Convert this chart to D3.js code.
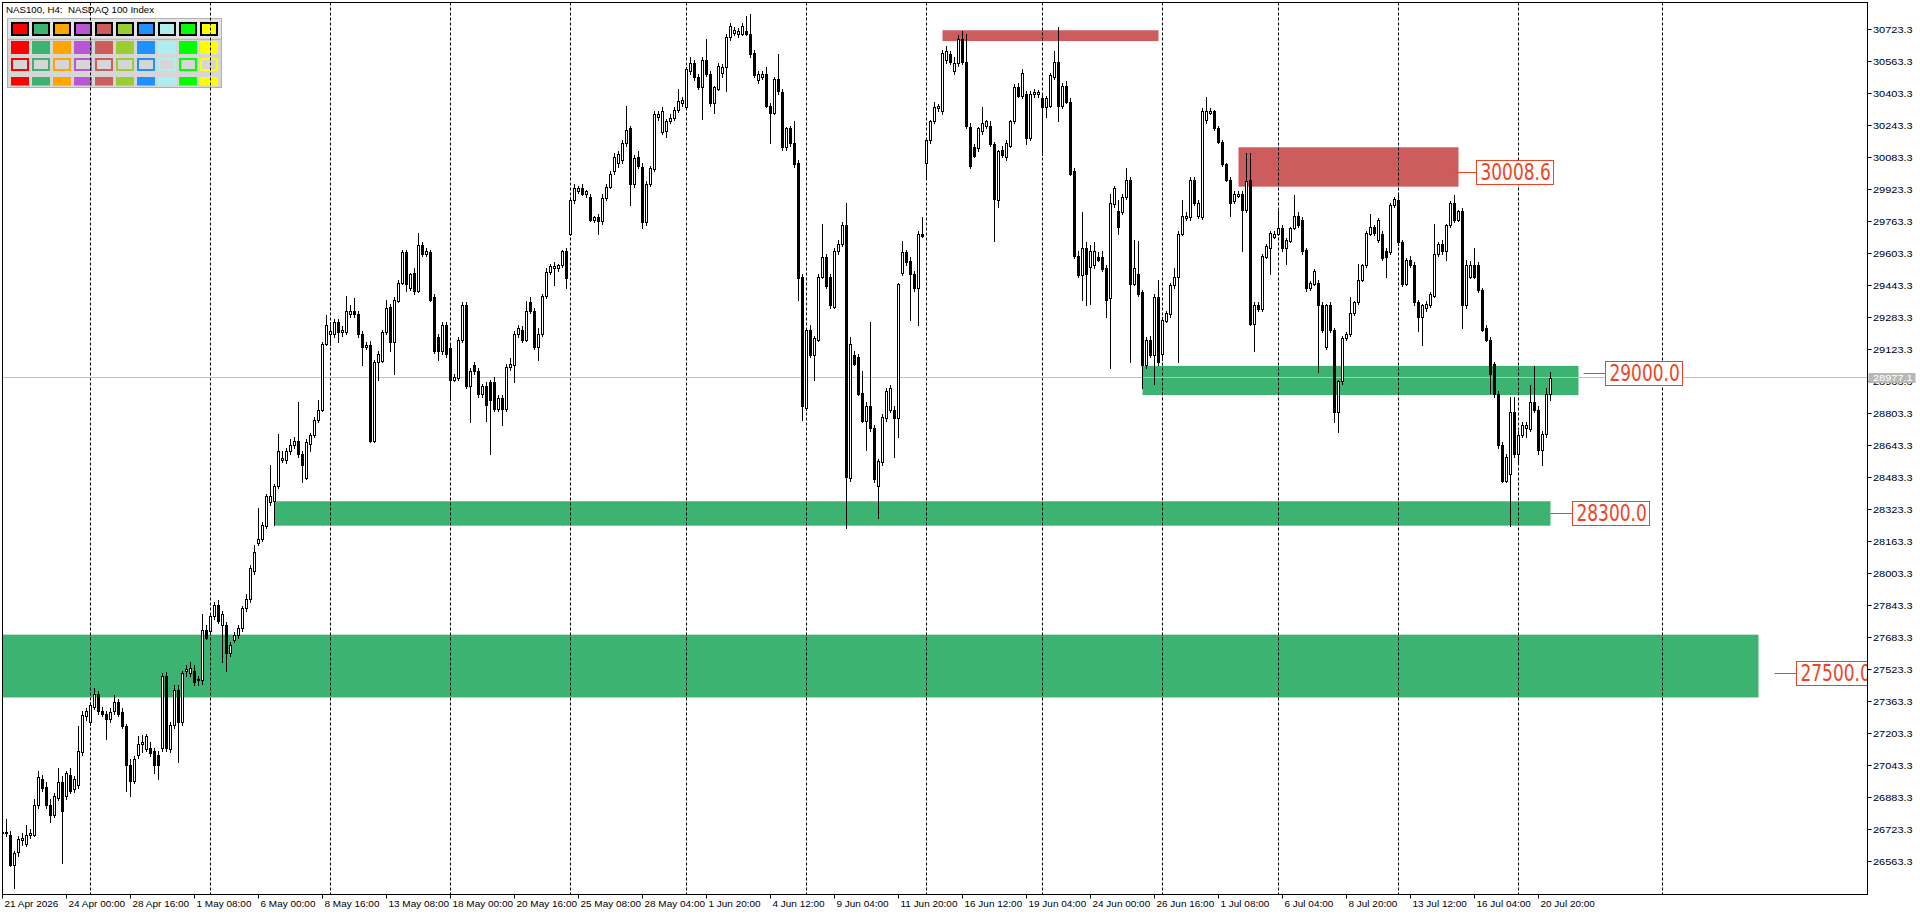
<!DOCTYPE html>
<html>
<head>
<meta charset="utf-8">
<title>NAS100, H4</title>
<script src="https://d3js.org/d3.v7.min.js"></script>
<style>
  html, body { margin: 0; padding: 0; background: #fff; overflow: hidden; }
  svg { display: block; }
  text { font-family: "Liberation Sans", Arial, sans-serif; }
  text.level-text { font-family: "DejaVu Sans", Verdana, sans-serif; }
</style>
</head>
<body>
<div id="chart"></div>
<script>

// H4 candles (bar 0 = 21 Apr 2026 08:00)
var opens = [
  26699, 26704, 26693, 26542, 26607, 26665, 26647, 26693, 26693, 26841,
  26970, 26933, 26841, 26790, 26876, 26956, 26885, 26990, 26922, 26942,
  27105, 27284, 27255, 27333, 27398, 27313, 27298, 27270, 27313, 27355,
  27304, 27236, 27042, 26962, 27090, 27147, 27122, 27127, 27113, 27090,
  27127, 27484, 27122, 27241, 27418, 27255, 27513, 27499, 27513, 27464,
  27464, 27718, 27713, 27784, 27841, 27741, 27741, 27599, 27664, 27690,
  27727, 27826, 27869, 28012, 28150, 28170, 28235, 28355, 28361, 28435,
  28566, 28566, 28612, 28640, 28663, 28597, 28475, 28645, 28691, 28768,
  28817, 29145, 29197, 29197, 29254, 29205, 29205, 29296, 29311, 29296,
  29197, 29131, 29140, 28663, 29054, 29063, 29205, 29331, 29154, 29362,
  29453, 29605, 29425, 29502, 29411, 29640, 29597, 29605, 29382, 29183,
  29111, 29240, 29126, 28968, 28977, 29168, 29339, 28934, 29040, 29011,
  28897, 28934, 28954, 28954, 28820, 28877, 28820, 29031, 29040, 29197,
  29217, 29168, 29354, 29311, 29131, 29197, 29388, 29505, 29525, 29525,
  29539, 29611, 29697, 29868, 29910, 29924, 29896, 29882, 29768, 29782,
  29759, 29876, 29930, 30010, 30053, 30067, 30152, 30224, 29947, 30081,
  30033, 29754, 29947, 30019, 30281, 30204, 30210, 30261, 30275, 30315,
  30352, 30332, 30510, 30552, 30481, 30429, 30567, 30495, 30352, 30423,
  30501, 30530, 30681, 30703, 30695, 30695, 30709, 30695, 30601, 30467,
  30481, 30495, 30338, 30301, 30472, 30404, 30129, 30224, 30152, 30053,
  29482, 28825, 29217, 29091, 29168, 29482, 29582, 29482, 29333, 29611,
  29645, 29739, 28475, 29091, 29083, 28903, 28760, 28834, 28725, 28435,
  28554, 28777, 28817, 28817, 28777, 29502, 29605, 29559, 29497, 29425,
  29697, 30053, 30167, 30261, 30324, 30310, 30567, 30595, 30510, 30552,
  30672, 30558, 30232, 30129, 30124, 30210, 30238, 30238, 30147, 29868,
  30118, 30081, 30138, 30261, 30432, 30387, 30395, 30175, 30395, 30395,
  30375, 30329, 30338, 30481, 30558, 30338, 30438, 30358, 30010, 29588,
  29491, 29625, 29531, 29539, 29582, 29582, 29525, 29376, 29847, 29811,
  29805, 29882, 29967, 29448, 29497, 29405, 29040, 29168, 29091, 29382,
  29097, 29262, 29296, 29439, 29482, 29697, 29776, 29782, 29967, 29788,
  29782, 30267, 30301, 30310, 30224, 30158, 30044, 29967, 29862, 29888,
  29896, 29816, 29967, 29245, 29339, 29319, 29582, 29625, 29682, 29697,
  29725, 29625, 29662, 29725, 29788, 29768, 29617, 29425, 29448, 29453,
  29339, 29131, 29339, 29217, 28805, 28959, 29177, 29197, 29302, 29354,
  29468, 29539, 29697, 29731, 29668, 29697, 29611, 29605, 29839, 29868,
  29654, 29445, 29568, 29539, 29354, 29282, 29325, 29339, 29388, 29597,
  29645, 29611, 29739, 29853, 29768, 29811, 29339, 29482, 29539, 29539,
  29416, 29226, 29168, 29046, 28897, 28640, 28463, 28497, 28805, 28597,
  28691, 28725, 28720, 28854, 28817, 28617, 28697, 28897
];
var highs = [
  26727, 26770, 26713, 26613, 26684, 26699, 26742, 26722, 26870, 27013,
  26990, 26956, 26870, 26899, 27028, 26985, 27013, 27028, 26985, 27236,
  27313, 27327, 27355, 27427, 27412, 27333, 27313, 27327, 27390, 27370,
  27327, 27247, 27070, 27085, 27184, 27190, 27198, 27156, 27127, 27113,
  27499, 27504, 27255, 27441, 27441, 27513, 27541, 27556, 27541, 27484,
  27798, 27741, 27798, 27855, 27864, 27812, 27755, 27656, 27704, 27741,
  27835, 27898, 28041, 28141, 28327, 28255, 28398, 28540, 28446, 28697,
  28612, 28626, 28669, 28683, 28854, 28612, 28669, 28702, 28782, 28868,
  29154, 29291, 29254, 29273, 29273, 29234, 29388, 29339, 29376, 29311,
  29211, 29154, 29160, 29068, 29111, 29217, 29368, 29348, 29382, 29468,
  29617, 29617, 29502, 29525, 29702, 29654, 29625, 29617, 29396, 29197,
  29254, 29254, 29140, 28997, 29183, 29354, 29354, 29025, 29054, 29025,
  28948, 28954, 28968, 28983, 28891, 28891, 29046, 29074, 29211, 29240,
  29234, 29362, 29382, 29325, 29226, 29396, 29525, 29548, 29554, 29548,
  29617, 29625, 29882, 29947, 29938, 29947, 29918, 29896, 29788, 29797,
  29896, 29947, 30010, 30101, 30110, 30167, 30338, 30238, 30090, 30110,
  30053, 29959, 30038, 30310, 30310, 30329, 30272, 30295, 30329, 30423,
  30381, 30530, 30581, 30567, 30495, 30581, 30672, 30510, 30438, 30552,
  30547, 30695, 30752, 30729, 30724, 30752, 30786, 30795, 30615, 30510,
  30510, 30530, 30352, 30481, 30595, 30423, 30232, 30238, 30261, 30067,
  29497, 29226, 29240, 29188, 29497, 29748, 29597, 29497, 29625, 29668,
  29754, 29853, 29183, 29111, 29097, 29011, 28854, 29254, 28740, 28569,
  28797, 28925, 28940, 28834, 29453, 29659, 29617, 29582, 29511, 29711,
  29782, 30175, 30267, 30358, 30347, 30615, 30638, 30609, 30581, 30689,
  30709, 30695, 30252, 30147, 30232, 30329, 30267, 30261, 30158, 30118,
  30138, 30167, 30267, 30444, 30452, 30519, 30409, 30409, 30423, 30415,
  30395, 30387, 30501, 30609, 30729, 30452, 30461, 30375, 30024, 29611,
  29805, 29654, 29640, 29654, 29605, 29611, 29539, 29896, 29938, 29868,
  29896, 30024, 29981, 29668, 29662, 29416, 29183, 29188, 29396, 29468,
  29282, 29311, 29453, 29525, 29711, 29868, 29805, 29981, 29981, 29868,
  30324, 30381, 30324, 30318, 30238, 30167, 30053, 29981, 29910, 29910,
  29910, 30101, 30101, 29354, 29354, 29597, 29645, 29711, 29711, 29811,
  29739, 29674, 29731, 29890, 29805, 29782, 29625, 29462, 29519, 29468,
  29354, 29348, 29354, 29226, 28968, 29188, 29205, 29382, 29359, 29548,
  29548, 29711, 29797, 29739, 29776, 29711, 29625, 29853, 29882, 29896,
  29668, 29576, 29588, 29554, 29368, 29348, 29359, 29405, 29748, 29654,
  29668, 29748, 29862, 29890, 29816, 29825, 29568, 29559, 29625, 29554,
  29425, 29240, 29183, 29054, 28911, 28654, 28597, 28883, 28883, 28711,
  28754, 28754, 28940, 29034, 28834, 28711, 28925, 29005
];
var lows = [
  26670, 26684, 26534, 26428, 26585, 26642, 26636, 26676, 26684, 26827,
  26913, 26827, 26756, 26779, 26864, 26551, 26870, 26899, 26905, 26928,
  27093, 27264, 27241, 27321, 27298, 27284, 27170, 27255, 27298, 27284,
  27227, 26913, 26885, 26951, 27076, 27105, 27113, 27085, 26999, 26970,
  27113, 27113, 27105, 27227, 27056, 27241, 27484, 27484, 27441, 27441,
  27447, 27670, 27698, 27769, 27749, 27556, 27513, 27584, 27656, 27676,
  27713, 27812, 27855, 27998, 28141, 28161, 28227, 28341, 28241, 28426,
  28554, 28549, 28597, 28626, 28583, 28455, 28469, 28612, 28683, 28754,
  28811, 29140, 29140, 29183, 29154, 29188, 29197, 29282, 29282, 29183,
  29040, 29120, 28654, 28654, 28968, 29054, 29197, 29111, 28997, 29354,
  29445, 29411, 29416, 29396, 29405, 29588, 29588, 29359, 29103, 29068,
  29097, 29083, 28868, 28959, 28968, 29154, 28925, 28754, 28997, 28883,
  28883, 28760, 28597, 28811, 28811, 28740, 28811, 29017, 28954, 29183,
  29154, 29160, 29302, 29120, 29068, 29188, 29376, 29496, 29439, 29511,
  29531, 29425, 29691, 29853, 29902, 29890, 29882, 29759, 29754, 29697,
  29748, 29868, 29924, 29996, 30033, 30053, 30138, 29839, 29930, 30024,
  29725, 29739, 29938, 30010, 30267, 30195, 30181, 30252, 30267, 30307,
  30338, 30324, 30495, 30467, 30423, 30272, 30487, 30338, 30301, 30415,
  30481, 30409, 30666, 30689, 30681, 30689, 30689, 30581, 30481, 30452,
  30472, 30329, 30152, 30295, 30395, 30118, 30118, 30138, 30033, 29368,
  28768, 28817, 29083, 28968, 29160, 29474, 29425, 29325, 29325, 29597,
  29634, 28227, 28463, 29040, 28891, 28754, 28617, 28711, 28455, 28275,
  28540, 28760, 28805, 28583, 28683, 29491, 29539, 29268, 29411, 29240,
  29682, 29976, 30152, 30252, 30310, 30295, 30552, 30547, 30495, 30538,
  30547, 30224, 30024, 30081, 30110, 30195, 30224, 30135, 29662, 29833,
  30081, 30067, 30129, 30252, 30381, 30375, 30147, 30167, 30381, 30381,
  30090, 30281, 30329, 30472, 30261, 30324, 30352, 29990, 29576, 29482,
  29368, 29339, 29348, 29525, 29559, 29511, 29282, 29025, 29833, 29697,
  29797, 29873, 29054, 29439, 29388, 28925, 29025, 29083, 28948, 29040,
  29068, 29254, 29282, 29425, 29054, 29691, 29768, 29768, 29839, 29776,
  29773, 30252, 30295, 30215, 30152, 30038, 29959, 29788, 29853, 29882,
  29611, 29805, 29240, 29111, 29311, 29311, 29576, 29497, 29674, 29691,
  29611, 29548, 29654, 29719, 29731, 29597, 29411, 29416, 29439, 29005,
  29205, 29120, 29205, 28754, 28705, 28948, 29168, 29188, 29291, 29348,
  29462, 29531, 29691, 29691, 29654, 29568, 29482, 29597, 29833, 29640,
  29434, 29439, 29531, 29339, 29211, 29140, 29311, 29331, 29382, 29588,
  29597, 29568, 29731, 29754, 29759, 29226, 29325, 29474, 29474, 29405,
  29211, 29160, 28903, 28883, 28626, 28455, 28455, 28235, 28583, 28549,
  28683, 28683, 28711, 28805, 28597, 28540, 28683, 28868
];
var closes = [
  26704, 26699, 26542, 26599, 26670, 26676, 26693, 26699, 26841, 26979,
  26928, 26841, 26790, 26885, 26956, 26813, 26999, 26913, 26970, 27113,
  27293, 27313, 27341, 27398, 27313, 27298, 27270, 27304, 27355, 27298,
  27236, 27042, 26962, 27070, 27147, 27156, 27184, 27099, 27042, 27042,
  27484, 27127, 27241, 27418, 27255, 27499, 27522, 27527, 27456, 27470,
  27718, 27676, 27784, 27841, 27761, 27798, 27599, 27641, 27693, 27727,
  27826, 27869, 28027, 28104, 28170, 28241, 28384, 28384, 28435, 28612,
  28574, 28612, 28640, 28663, 28597, 28540, 28654, 28691, 28768, 28817,
  29145, 29240, 29211, 29254, 29205, 29217, 29311, 29311, 29296, 29197,
  29131, 29140, 28660, 29054, 29097, 29205, 29325, 29154, 29368, 29453,
  29605, 29448, 29497, 29411, 29640, 29597, 29611, 29368, 29111, 29111,
  29240, 29097, 28968, 28983, 29168, 29339, 28934, 29011, 29011, 28897,
  28934, 28840, 28868, 28820, 28877, 28820, 29031, 29046, 29197, 29226,
  29168, 29311, 29311, 29131, 29197, 29388, 29505, 29534, 29534, 29539,
  29611, 29477, 29868, 29924, 29924, 29896, 29910, 29768, 29782, 29759,
  29876, 29930, 29996, 30081, 30095, 30152, 30215, 29947, 30076, 30038,
  29754, 29947, 30024, 30295, 30295, 30310, 30261, 30275, 30318, 30361,
  30367, 30519, 30552, 30481, 30432, 30567, 30495, 30352, 30429, 30538,
  30530, 30681, 30738, 30718, 30709, 30738, 30695, 30595, 30489, 30495,
  30495, 30338, 30301, 30472, 30409, 30129, 30224, 30152, 30044, 29477,
  28834, 29217, 29091, 29177, 29482, 29582, 29434, 29339, 29611, 29645,
  29739, 28483, 29145, 29046, 28897, 28760, 28834, 28725, 28469, 28560,
  28782, 28911, 28925, 28777, 29445, 29605, 29554, 29497, 29425, 29697,
  29688, 30167, 30261, 30329, 30338, 30601, 30609, 30558, 30552, 30672,
  30558, 30238, 30038, 30087, 30224, 30252, 30261, 30147, 29873, 30110,
  30090, 30152, 30261, 30432, 30387, 30501, 30175, 30395, 30404, 30404,
  30329, 30375, 30489, 30558, 30338, 30438, 30358, 29996, 29588, 29491,
  29625, 29497, 29611, 29611, 29568, 29519, 29368, 29853, 29924, 29731,
  29882, 29967, 29448, 29525, 29396, 29040, 29168, 29091, 29382, 29054,
  29268, 29302, 29439, 29482, 29697, 29788, 29788, 29967, 29853, 29853,
  30310, 30310, 30310, 30224, 30158, 30044, 29967, 29853, 29896, 29896,
  29816, 29959, 29245, 29339, 29319, 29588, 29634, 29702, 29697, 29725,
  29625, 29668, 29725, 29788, 29739, 29611, 29425, 29453, 29511, 29339,
  29217, 29339, 29217, 28805, 28959, 29177, 29197, 29302, 29354, 29468,
  29539, 29702, 29731, 29702, 29768, 29576, 29582, 29839, 29873, 29654,
  29445, 29568, 29539, 29354, 29282, 29339, 29348, 29396, 29597, 29645,
  29611, 29739, 29853, 29768, 29811, 29339, 29539, 29539, 29482, 29416,
  29217, 29168, 28997, 28897, 28640, 28463, 28583, 28805, 28597, 28691,
  28740, 28740, 28854, 28817, 28617, 28697, 28897, 28977.1
];

var lastPrice = 28977.1;

// time axis labels (bar index -> text)
var xLabelBars = [0, 16, 32, 48, 64, 80, 96, 112, 128, 144, 160, 176, 192,
                  208, 224, 240, 256, 272, 288, 304, 320, 336, 352, 368, 384];
var xLabelText = ["21 Apr 2026", "24 Apr 00:00", "28 Apr 16:00", "1 May 08:00",
  "6 May 00:00", "8 May 16:00", "13 May 08:00", "18 May 00:00", "20 May 16:00",
  "25 May 08:00", "28 May 04:00", "1 Jun 20:00", "4 Jun 12:00", "9 Jun 04:00",
  "11 Jun 20:00", "16 Jun 12:00", "19 Jun 04:00", "24 Jun 00:00", "26 Jun 16:00",
  "1 Jul 08:00", "6 Jul 04:00", "8 Jul 20:00", "13 Jul 12:00", "16 Jul 04:00",
  "20 Jul 20:00"];

// weekly separators (bar index, last one lies in the future)
var gridBars = [22, 52, 82, 112, 142, 171, 201, 231, 260, 290, 319, 349, 379, 415];

// price scale labels
var yTicks = [26563.3, 26723.3, 26883.3, 27043.3, 27203.3, 27363.3, 27523.3,
  27683.3, 27843.3, 28003.3, 28163.3, 28323.3, 28483.3, 28643.3, 28803.3,
  28963.3, 29123.3, 29283.3, 29443.3, 29603.3, 29763.3, 29923.3, 30083.3,
  30243.3, 30403.3, 30563.3, 30723.3];

// supply / demand rectangles
var zoneTop    = [30715, 30130, 29037, 28360, 27693];
var zoneBottom = [30661, 29933, 28891, 28238, 27379];
var zoneFrom   = [235, 309, 285, 68, -1];
var zoneTo     = [289, 364, 394, 387, 439];
var zoneKind   = ["supply", "supply", "demand", "demand", "demand"];

// price labels drawn next to the rectangles
var levelValues   = [30008.6, 29000.0, 28300.0, 27500.0];
var levelLabelBar = [368.5, 400.75, 392.5, 448.5];

// colour buttons panel
var paletteColors = ["#ff0000", "#3cb371", "#ffa500", "#ba55d3", "#cd5c5c",
                     "#9acd32", "#1e90ff", "#afeeee", "#00ff00", "#ffff00"];

var W = 1920, H = 915;
var pl = 2.5, pt = 2.5, pr = 1867.5, pb = 894.5;
var labelColor = "#ef4423";

var x = d3.scaleLinear().domain([0, 466.25]).range([2.5, 1867.5]);
var y = d3.scaleLinear().domain([26396.3, 30856.3]).range([894, 2]);
var crisp = function(v) { return Math.round(v) + 0.5; };

var svg = d3.select("#chart").append("svg")
    .attr("width", W).attr("height", H);
svg.append("rect").attr("width", W).attr("height", H).attr("fill", "#fff");

svg.append("defs").append("clipPath").attr("id", "plotClip")
  .append("rect").attr("x", pl).attr("y", pt).attr("width", pr - pl).attr("height", pb - pt);

// ---- palette panel (top left)
var panel = svg.append("g");
panel.append("rect").attr("x", 7.5).attr("y", 18.5).attr("width", 214).attr("height", 69)
  .attr("fill", "#d6d6d6").attr("stroke", "#b0b0b0");
panel.append("rect").attr("x", 8).attr("y", 19).attr("width", 213).attr("height", 19)
  .attr("fill", "#e4e4e4");
panel.append("line").attr("x1", 8).attr("x2", 221).attr("y1", 39.5).attr("y2", 39.5)
  .attr("stroke", "#b8b8b8");
panel.selectAll("rect.btn").data(paletteColors).join("rect").attr("class", "btn")
  .attr("x", function(d, i) { return 12 + 21 * i; }).attr("y", 23)
  .attr("width", 16).attr("height", 12)
  .attr("fill", function(d) { return d; })
  .attr("stroke", "#000").attr("stroke-width", 2);
panel.selectAll("rect.solid").data(paletteColors).join("rect").attr("class", "solid")
  .attr("x", function(d, i) { return 11 + 21 * i; }).attr("y", 41)
  .attr("width", 18).attr("height", 13)
  .attr("fill", function(d) { return d; });
panel.selectAll("rect.frame").data(paletteColors).join("rect").attr("class", "frame")
  .attr("x", function(d, i) { return 12 + 21 * i; }).attr("y", 59)
  .attr("width", 16).attr("height", 11)
  .attr("fill", "#d6d6d6")
  .attr("stroke", function(d) { return d; }).attr("stroke-width", 2);
panel.selectAll("rect.strip").data(paletteColors).join("rect").attr("class", "strip")
  .attr("x", function(d, i) { return 11 + 21 * i; }).attr("y", 77)
  .attr("width", 18).attr("height", 8.5)
  .attr("fill", function(d) { return d; });

// ---- zones
var plotG = svg.append("g").attr("clip-path", "url(#plotClip)");
var zones = d3.range(zoneTop.length).map(function(k) {
  return { top: zoneTop[k], bottom: zoneBottom[k], from: zoneFrom[k], to: zoneTo[k], kind: zoneKind[k] };
});
plotG.selectAll("rect.zone").data(zones).join("rect").attr("class", "zone")
  .attr("x", function(d) { return Math.max(pl, x(d.from)); })
  .attr("y", function(d) { return y(d.top); })
  .attr("width", function(d) { return x(d.to) - Math.max(pl, x(d.from)); })
  .attr("height", function(d) { return y(d.bottom) - y(d.top); })
  .attr("fill", function(d) { return d.kind === "supply" ? "#cd5c5c" : "#3cb371"; });

// ---- weekly grid
plotG.selectAll("line.grid").data(gridBars).join("line").attr("class", "grid")
  .attr("x1", function(d) { return x(d); }).attr("x2", function(d) { return x(d); })
  .attr("y1", pt).attr("y2", pb)
  .attr("stroke", "#000").attr("stroke-width", 1).attr("stroke-dasharray", "3,2");

// ---- last price line
plotG.append("line")
  .attr("x1", pl).attr("x2", pr)
  .attr("y1", crisp(y(lastPrice) - 0.5)).attr("y2", crisp(y(lastPrice) - 0.5))
  .attr("stroke", "#c0c0c0").attr("stroke-width", 1);

// ---- candles
var n = Math.min(opens.length, highs.length, lows.length, closes.length);
var bars = d3.range(n).map(function(i) {
  return { i: i, o: opens[i], h: highs[i], l: lows[i], c: closes[i] };
});
var candleG = plotG.append("g");
candleG.selectAll("line.wick").data(bars).join("line").attr("class", "wick")
  .attr("x1", function(d) { return x(d.i); }).attr("x2", function(d) { return x(d.i); })
  .attr("y1", function(d) { return Math.round(y(d.h)); })
  .attr("y2", function(d) { return Math.round(y(d.l)) + 1; })
  .attr("stroke", "#000").attr("stroke-width", 1);

var bull = bars.filter(function(d) { return d.c >= d.o; });
var bear = bars.filter(function(d) { return d.c < d.o; });
candleG.selectAll("rect.bull").data(bull).join("rect").attr("class", "bull")
  .attr("x", function(d) { return x(d.i) - 1; })
  .attr("y", function(d) { return Math.round(y(d.c)) + 0.5; })
  .attr("width", 2)
  .attr("height", function(d) { return Math.max(0, Math.round(y(d.o)) - Math.round(y(d.c))); })
  .attr("fill", "#fff").attr("stroke", "#000").attr("stroke-width", 1);
candleG.selectAll("rect.bear").data(bear).join("rect").attr("class", "bear")
  .attr("x", function(d) { return x(d.i) - 1.5; })
  .attr("y", function(d) { return Math.round(y(d.o)); })
  .attr("width", 3)
  .attr("height", function(d) { return Math.max(1, Math.round(y(d.c)) - Math.round(y(d.o)) + 1); })
  .attr("fill", "#000");

// ---- level labels
var levels = d3.range(levelValues.length).map(function(k) {
  return { v: levelValues[k], bar: levelLabelBar[k] };
});
var lab = plotG.selectAll("g.level").data(levels).join("g").attr("class", "level");
lab.append("line")
  .attr("x1", function(d) { return x(d.bar) - 22; }).attr("x2", function(d) { return x(d.bar); })
  .attr("y1", function(d) { return crisp(y(d.v)); }).attr("y2", function(d) { return crisp(y(d.v)); })
  .attr("stroke", labelColor).attr("stroke-width", 1);
lab.append("rect")
  .attr("x", function(d) { return x(d.bar); })
  .attr("y", function(d) { return Math.round(y(d.v)) - 12 + 0.5; })
  .attr("width", 77).attr("height", 24)
  .attr("fill", "#fff").attr("stroke", labelColor).attr("stroke-width", 1);
lab.append("text").attr("class", "level-text")
  .attr("transform", function(d) {
    return "translate(" + (x(d.bar) + 4) + "," + (Math.round(y(d.v)) + 8) + ") scale(1,1.3)";
  })
  .attr("font-size", 17).attr("fill", labelColor)
  .text(function(d) { return d.v.toFixed(1); });

// ---- title
svg.append("text")
  .attr("x", 6).attr("y", 12.5)
  .attr("font-size", 9.7).attr("fill", "#000")
  .style("white-space", "pre")
  .text("NAS100, H4:  NASDAQ 100 Index");

// ---- frame and axes
svg.append("rect").attr("x", pl).attr("y", pt).attr("width", pr - pl).attr("height", pb - pt)
  .attr("fill", "none").attr("stroke", "#000").attr("stroke-width", 1);

var yAx = svg.append("g");
yAx.selectAll("line").data(yTicks).join("line")
  .attr("x1", pr).attr("x2", pr + 4)
  .attr("y1", function(d) { return crisp(y(d)); }).attr("y2", function(d) { return crisp(y(d)); })
  .attr("stroke", "#000");
yAx.selectAll("text").data(yTicks).join("text")
  .attr("transform", function(d) { return "translate(" + (pr + 5.5) + "," + (Math.round(y(d)) + 3.6) + ") scale(1,0.74)"; })
  .attr("font-size", 11).attr("fill", "#000")
  .text(function(d) { return d.toFixed(1); });

// last price tag
var tagY = Math.round(y(lastPrice));
svg.append("rect").attr("x", pr + 1).attr("y", tagY - 5).attr("width", 47).attr("height", 10)
  .attr("fill", "#b8b8b8");
svg.append("text")
  .attr("transform", "translate(" + (pr + 5.5) + "," + (tagY + 3.4) + ") scale(1,0.74)")
  .attr("font-size", 11).attr("fill", "#fff")
  .text(lastPrice.toFixed(1));

var xAx = svg.append("g");
xAx.selectAll("line").data(xLabelBars).join("line")
  .attr("x1", function(d) { return x(d); }).attr("x2", function(d) { return x(d); })
  .attr("y1", pb).attr("y2", pb + 4)
  .attr("stroke", "#000");
xAx.selectAll("text").data(xLabelBars).join("text")
  .attr("transform", function(d) { return "translate(" + (x(d) + 2) + ",906.5) scale(1,0.83)"; })
  .attr("font-size", 10).attr("fill", "#000")
  .text(function(d, k) { return xLabelText[k]; });

</script>
</body>
</html>
